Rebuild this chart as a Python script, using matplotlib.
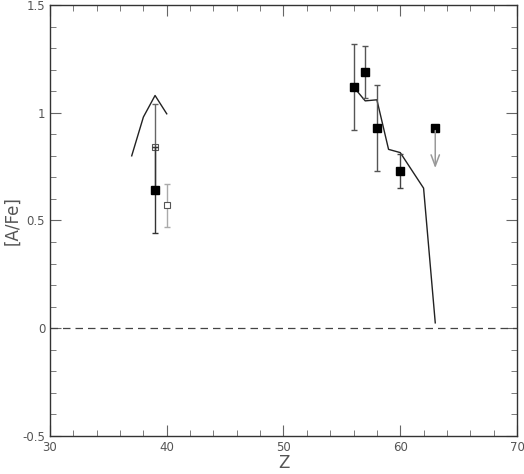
import numpy as np
import matplotlib
matplotlib.use('Agg')
import matplotlib.pyplot as plt
from matplotlib.ticker import MultipleLocator, FormatStrFormatter

# filled points (measurements)
z_fill = [39, 56, 57, 58, 60]
ab_fill = [0.64, 1.12, 1.19, 0.93, 0.73]
err_fill = [0.20, 0.20, 0.12, 0.20, 0.08]
err_col = ['#333333', '#555555', '#555555', '#555555', '#444444']

# open points
z_open = [39, 40]
ab_open = [0.84, 0.57]
err_open = [0.20, 0.10]
open_col = ['#666666', '#aaaaaa']

# upper limit
z_lim = [63]
ab_lim = [0.93]
lim_len = 0.20

# model lines
z_mod1 = [37, 38, 39, 40]
ab_mod1 = [0.80, 0.98, 1.08, 0.995]
z_mod2 = [56, 57, 58, 59, 60, 62, 63]
ab_mod2 = [1.12, 1.055, 1.06, 0.83, 0.815, 0.65, 0.025]

plt.rcParams['font.family'] = 'DejaVu Sans'
fig = plt.figure(figsize=(5.24, 4.74), dpi=100)
ax = fig.add_axes([0.0954, 0.0802, 0.8912, 0.9093])

ax.axhline(0, color='#444444', lw=0.9, dashes=(6, 4))

ax.plot(z_mod1, ab_mod1, color='#222222', lw=1.0)
ax.plot(z_mod2, ab_mod2, color='#222222', lw=1.0)

for z, a, e, c in zip(z_open, ab_open, err_open, open_col):
    ax.errorbar(z, a, yerr=e, fmt='none', ecolor=c, elinewidth=1.0, capsize=2.5, capthick=1.0)
ax.plot(z_open[0], ab_open[0], 's', ms=5, mfc='none', mec='#555555', mew=0.8)
ax.plot(z_open[0], ab_open[0], '+', ms=5, color='#555555', mew=0.8)
ax.plot(z_open[1], ab_open[1], 's', ms=5, mfc='white', mec='#555555', mew=0.8)

for z, a, e, c in zip(z_fill, ab_fill, err_fill, err_col):
    ax.errorbar(z, a, yerr=e, fmt='none', ecolor=c, elinewidth=1.0, capsize=2.5, capthick=1.0)
ax.plot(z_fill, ab_fill, 's', ms=5.5, color='black')

for z, a in zip(z_lim, ab_lim):
    ax.annotate('', xy=(z, a - lim_len), xytext=(z, a),
                arrowprops=dict(arrowstyle='->,head_length=0.8,head_width=0.3', color='#999999', lw=1.1))
    ax.plot(z, a, 's', ms=5.5, color='black')

ax.set_xlim(30, 70)
ax.set_ylim(-0.5, 1.5)
ax.xaxis.set_major_locator(MultipleLocator(10))
ax.xaxis.set_minor_locator(MultipleLocator(2))
ax.yaxis.set_major_locator(MultipleLocator(0.5))
ax.yaxis.set_minor_locator(MultipleLocator(0.1))
ax.yaxis.set_major_formatter(FormatStrFormatter('%g'))
ax.tick_params(which='both', direction='in', top=True, right=True, colors='#666666',
               labelcolor='#555555', labelsize=8.5)
ax.tick_params(which='major', length=8)
ax.tick_params(which='minor', length=4.5)
for s in ax.spines.values():
    s.set_color('#333333')
    s.set_linewidth(1.0)

ax.set_xlabel('Z', color='#555555', fontsize=12, labelpad=0)
ax.set_ylabel('[A/Fe]', color='#555555', fontsize=12, labelpad=1)

fig.savefig('out.png', dpi=100)
